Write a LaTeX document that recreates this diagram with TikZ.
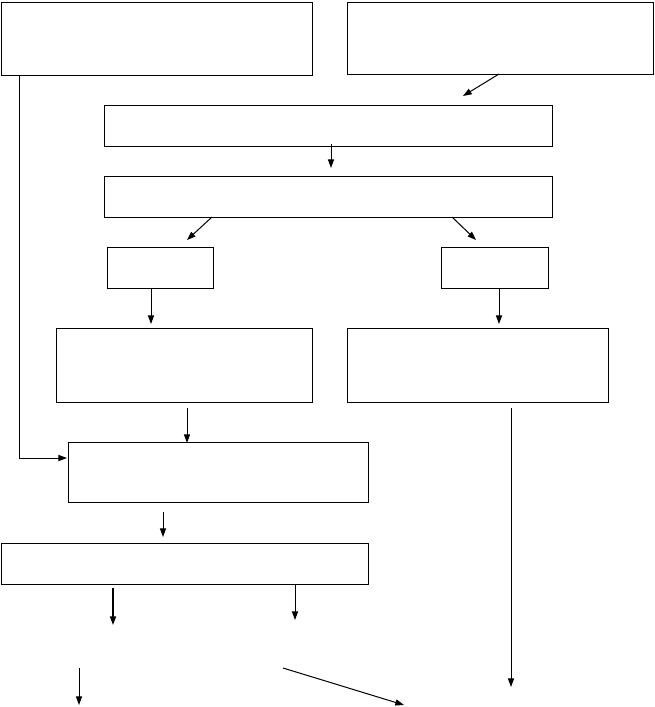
\documentclass[tikz,border=0pt]{standalone}
\usetikzlibrary{arrows.meta}

\tikzset{every picture/.style={line width=0.75pt}}
\tikzset{
  box/.style={draw, anchor=north west, inner sep=0pt, fill=white},
  arr/.style={-{Triangle[length=6.5pt,width=4.6pt]}},
}

\begin{document}
\begin{tikzpicture}[x=0.75pt,y=0.75pt,yscale=-1,xscale=1]
    %set diagram left start at 0, and has height of 707
    \path[use as bounding box] (0,0) rectangle (655,707);

    %Shape: Rectangle [id:boxA]
    \node[box, minimum width=233.25pt, minimum height=54.75pt] (boxA) at (1,2) {};
    %Shape: Rectangle [id:boxB]
    \node[box, minimum width=229.5pt, minimum height=54pt] (boxB) at (347,2) {};
    %Shape: Rectangle [id:boxC]
    \node[box, minimum width=336pt, minimum height=30.75pt] (boxC) at (104,105) {};
    %Shape: Rectangle [id:boxD]
    \node[box, minimum width=336pt, minimum height=30.75pt] (boxD) at (104,176) {};
    %Shape: Rectangle [id:boxE]
    \node[box, minimum width=79.5pt, minimum height=30.75pt] (boxE) at (107,247) {};
    %Shape: Rectangle [id:boxF]
    \node[box, minimum width=80.25pt, minimum height=30.75pt] (boxF) at (441,247) {};
    %Shape: Rectangle [id:boxG]
    \node[box, minimum width=192pt, minimum height=55.5pt] (boxG) at (56,328) {};
    %Shape: Rectangle [id:boxH]
    \node[box, minimum width=195.75pt, minimum height=55.5pt] (boxH) at (347,328) {};
    %Shape: Rectangle [id:boxI]
    \node[box, minimum width=225pt, minimum height=45pt] (boxI) at (68,442) {};
    %Shape: Rectangle [id:boxJ]
    \node[box, minimum width=275.25pt, minimum height=30.75pt] (boxJ) at (1,543) {};

    % end points of the connectors
    \coordinate (bc1) at (499,74);   \coordinate (bc2) at (463,96);
    \coordinate (cd1) at (331,144);  \coordinate (cd2) at (331,168);
    \coordinate (de1) at (212,217);  \coordinate (de2) at (187,240);
    \coordinate (df1) at (452,217);  \coordinate (df2) at (476,240);
    \coordinate (eg1) at (151,288);  \coordinate (eg2) at (151,324);
    \coordinate (fh1) at (499,288);  \coordinate (fh2) at (499,324);
    \coordinate (ai1) at (19,75);    \coordinate (ai2) at (19,458);
    \coordinate (ai3) at (67,458);
    \coordinate (gi1) at (187,408);  \coordinate (gi2) at (187,443);
    \coordinate (ij1) at (163,512);  \coordinate (ij2) at (163,537);
    \coordinate (jl1) at (113,588);  \coordinate (jl2) at (113,625);
    \coordinate (jr1) at (295,584);  \coordinate (jr2) at (295,620);
    \coordinate (lo1) at (79,668);   \coordinate (lo2) at (79,705);
    \coordinate (ro1) at (283,668);  \coordinate (ro2) at (404,705);
    \coordinate (hd1) at (511,408);  \coordinate (hd2) at (511,687);

    %Straight Lines
    \draw[arr] (bc1) -- (bc2);
    %Straight Lines
    \draw[arr] (cd1) -- (cd2);
    %Straight Lines
    \draw[arr] (de1) -- (de2);
    %Straight Lines
    \draw[arr] (df1) -- (df2);
    %Straight Lines
    \draw[arr] (eg1) -- (eg2);
    %Straight Lines
    \draw[arr] (fh1) -- (fh2);
    %Straight Lines
    \draw[arr] (ai1) -- (ai2) -- (ai3);
    %Straight Lines
    \draw[arr] (gi1) -- (gi2);
    %Straight Lines
    \draw[arr] (ij1) -- (ij2);
    %Straight Lines
    \draw[arr, line width=1.1pt] (jl1) -- (jl2);
    %Straight Lines
    \draw[arr] (jr1) -- (jr2);
    %Straight Lines
    \draw[arr] (lo1) -- (lo2);
    %Straight Lines
    \draw[arr] (ro1) -- (ro2);
    %Straight Lines
    \draw[arr] (hd1) -- (hd2);

\end{tikzpicture}
\end{document}
